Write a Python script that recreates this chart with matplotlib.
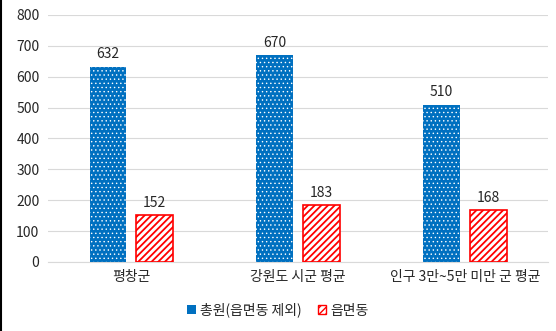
import matplotlib
matplotlib.use("Agg")
import matplotlib.pyplot as plt
import numpy as np
from matplotlib.patches import Patch

plt.rcParams['font.family'] = ['Noto Sans CJK KR', 'DejaVu Sans']

categories = ["평창군", "강원도 시군 평균", "인구 3만~5만 미만 군 평균"]
total = [632, 670, 510]
eup = [152, 183, 168]
series_names = ["총원(읍면동 제외)", "읍면동"]
yticks = [0, 100, 200, 300, 400, 500, 600, 700, 800]

fig = plt.figure(figsize=(5.56, 3.31), dpi=100)
ax = fig.add_axes([0.086, 0.2085, 0.9, 0.7462])

x = np.arange(len(categories))
w = 0.22
off = 0.14
with plt.rc_context({'hatch.linewidth': 0.5}):
    b1 = ax.bar(x - off, total, w, color='#0070c0', edgecolor='white', linewidth=0, hatch='....', zorder=3)
with plt.rc_context({'hatch.linewidth': 1.3}):
    b2 = ax.bar(x + off, eup, w, facecolor='white', edgecolor='#ff0000', linewidth=1.2, hatch='/////', zorder=3)
for p in b1:
    if hasattr(p, 'set_hatch_linewidth'):
        p.set_hatch_linewidth(0.5)
for p in b2:
    if hasattr(p, 'set_hatch_linewidth'):
        p.set_hatch_linewidth(1.3)

for xi, v in zip(x - off, total):
    ax.text(xi, v + 18, str(v), ha='center', va='bottom', fontsize=10, color='#262626')
for xi, v in zip(x + off, eup):
    ax.text(xi, v + 18, str(v), ha='center', va='bottom', fontsize=10, color='#262626')

ax.set_ylim(0, 800)
ax.set_xlim(-0.5, 2.5)
ax.set_yticks(yticks)
ax.set_yticklabels([str(t) for t in yticks], fontsize=10, color='#262626')
ax.set_xticks(x)
ax.set_xticklabels(categories, fontsize=10, color='#262626')
ax.tick_params(axis='both', length=0, pad=6)
ax.yaxis.grid(True, color='#d9d9d9', linewidth=0.8, zorder=0)
ax.set_axisbelow(True)
for s in ['top', 'right', 'left']:
    ax.spines[s].set_visible(False)
ax.spines['bottom'].set_color('#d9d9d9')

with plt.rc_context({'hatch.linewidth': 1.3}):
    handles = [Patch(facecolor='#0070c0', edgecolor='white', linewidth=0),
               Patch(facecolor='white', edgecolor='#ff0000', hatch='/////')]
fig.legend(handles, series_names, loc='center', bbox_to_anchor=(0.5, 0.063), ncol=2,
           frameon=False, fontsize=10, handlelength=0.6, handleheight=0.6,
           handletextpad=0.3, columnspacing=1.2, labelcolor='#262626')

fig.add_artist(plt.Line2D([0.002, 0.002], [0, 1], transform=fig.transFigure, color='black', linewidth=1.5))

fig.savefig('out.png', dpi=100)
